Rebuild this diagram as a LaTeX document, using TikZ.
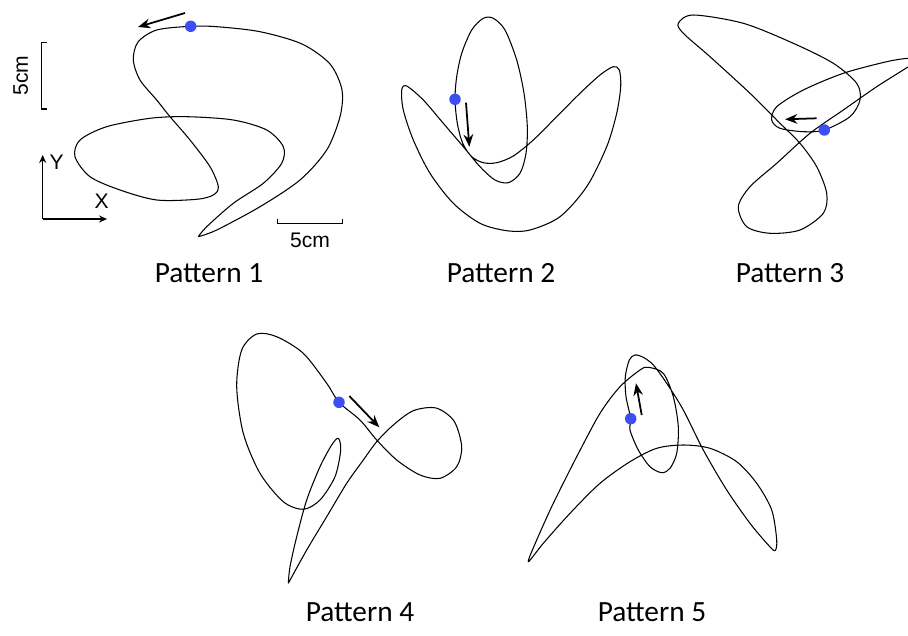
\documentclass[tikz,border=0pt]{standalone}
\usepackage{fontspec}
\setmainfont{Carlito}
\newfontfamily\arialfont{Liberation Sans}
\usetikzlibrary{arrows.meta}
\definecolor{dotblue}{HTML}{3D4EF5}

\begin{document}
\begin{tikzpicture}[x=0.02cm, y=-0.02cm,
  traj/.style={line width=0.6pt, line join=round},
  dirarrow/.style={line width=1pt, -{Stealth[length=7pt, width=5.5pt]}},
  axisarrow/.style={line width=0.7pt, -{Stealth[length=4.5pt, width=4pt]}},
  startdot/.style={circle, fill=dotblue, inner sep=0pt, minimum size=0.23cm},
  title/.style={font=\fontsize{16.7}{20}\selectfont, anchor=base},
  scalelabel/.style={font=\arialfont\fontsize{12}{14}\selectfont}]
  \useasboundingbox (0,0) rectangle (908,635);
  \clip (0,0) rectangle (908,635);

  % Pattern 1
  \draw[traj] plot[smooth] coordinates {(198.3,236.7) (216.7,230) (260,206.7) (300,180) (326.7,150) (340,116.7) (342,90) (330,64) (302,44) (260,31.7) (216.7,26.7) (190.7,26.3) (156.7,30) (138,42) (133.3,60) (140,80) (156.7,100) (170,116.7) (190,140) (210,166.7) (218.3,186.7) (213.3,195) (196.7,199.3) (156.7,200) (120,190) (90,176.7) (75,156.7) (80,140) (106.7,126.7) (150,118.3) (186.7,116.7) (233.3,120) (266.7,130) (283.3,146.7) (281.7,163.3) (263.3,183.3) (233.3,203.3) (206.7,226.7) (198.3,236.7)};
  \node[startdot] (dot1) at (190.7,26.3) {};
  \coordinate (a1s) at (185,13);
  \coordinate (a1e) at (138,27);
  \draw[dirarrow] (a1s) -- (a1e);

  % Echelles et axes
  \draw[line width=0.6pt] (46.5,42.3) -- (41.7,42.3) -- (41.7,109) -- (46.5,109);
  \node[scalelabel, rotate=90] (sv) at (20.7,75.7) {5cm};
  \draw[line width=0.6pt] (277.7,218.5) -- (277.7,223.3) -- (342.7,223.3) -- (342.7,218.5);
  \node[scalelabel] (sh) at (310,240) {5cm};
  \coordinate (ax0) at (42.7,219);
  \coordinate (axy) at (42.7,155);
  \coordinate (axx) at (107,219);
  \draw[axisarrow] (ax0) -- (axy);
  \draw[axisarrow] (ax0) -- (axx);
  \node[scalelabel] (ly) at (56.7,162.3) {Y};
  \node[scalelabel] (lx) at (101.7,201.7) {X};

  % Pattern 2
  \draw[traj] plot[smooth cycle] coordinates {(455,99.3) (457.3,123.3) (462.7,143.3) (471.7,156.7) (483.3,162.7) (496.7,162.7) (513.3,156) (533.3,140) (556.7,116.7) (580,93.3) (600,75) (613.3,66.7) (619.3,70) (620.7,86.7) (616.7,113.3) (606.7,146.7) (586.7,186.7) (560,216.7) (530,230) (506.7,230.7) (480,223.3) (453.3,203.3) (430,173.3) (413.3,140) (403.3,110) (401.7,90) (406.7,86) (423.3,100) (443.3,123.3) (463.3,146.7) (480,166.7) (495,180) (508.3,182.7) (520,173.3) (526,153.3) (527.3,126.7) (524,93.3) (516.7,60) (505,30) (493.3,18.3) (483.3,18.3) (471.7,30) (461.7,53.3) (456.7,76.7)};
  \node[startdot] (dot2) at (455,99.3) {};
  \coordinate (a2s) at (466,102.7);
  \coordinate (a2e) at (469.3,146.7);
  \draw[dirarrow] (a2s) -- (a2e);

  % Pattern 3
  \draw[traj] plot[smooth cycle] coordinates {(678.3,23.3) (693.3,15) (743.3,23.3) (793.3,43.3) (833.3,63.3) (856.7,83.3) (860,100) (850,116.7) (824.3,130) (803.3,131.7) (780,128.3) (771.7,120) (776.7,106.7) (803.3,90) (843.3,73.3) (886.7,61.7) (908.3,58.3) (916.7,60) (908.3,66.7) (876.7,86.7) (843.3,110) (810,133.3) (776.7,163.3) (750,186.7) (738.3,206.7) (746.7,226.7) (770,233.3) (800,230) (823.3,213.3) (826.7,193.3) (816.7,166.7) (800,143.3) (780,123.3) (750,93.3) (710,56.7) (683.3,33.3)};
  \node[startdot] (dot3) at (824.3,130) {};
  \coordinate (a3s) at (816.7,118.3);
  \coordinate (a3e) at (785,119.3);
  \draw[dirarrow] (a3s) -- (a3e);

  % Pattern 4
  \draw[traj] plot[smooth] coordinates {(288.3,583.3) (290,566.7) (296.7,536.7) (306.7,500) (320,466.7) (331.7,445) (338.3,438.3) (340.7,450) (335,476.7) (320,500) (303.3,509.3) (283.3,501.7) (260,473.3) (243.3,433.3) (236.7,386.7) (241.7,350) (256.7,334) (276.7,336.7) (303.3,353.3) (326.7,383.3) (339,402.3) (360,420) (376.7,440) (396.7,460) (420,475) (440,478.3) (456.7,466.7) (461.7,446.7) (454,421) (436,408) (413.3,410.7) (393.3,425) (376.7,441.7) (363.3,460) (346.7,483.3) (326.7,516.7) (306.7,550) (288.3,583.3)};
  \node[startdot] (dot4) at (339,402.3) {};
  \coordinate (a4s) at (349.3,396);
  \coordinate (a4e) at (379.3,427.3);
  \draw[dirarrow] (a4s) -- (a4e);

  % Pattern 5
  \draw[traj] plot[smooth cycle] coordinates {(630.7,418.7) (626,396.7) (625.3,376.7) (629.3,360) (635,355) (643.3,357.3) (653.3,365) (666.7,383.3) (683.3,410) (703.3,450) (726.7,490) (750,523.3) (768.3,545) (775,550.7) (776.7,540) (771.7,510) (756.7,483.3) (736.7,461.7) (710,448.3) (683.3,445) (656.7,448.3) (630,461.7) (600,483.3) (570,513.3) (543.3,543.3) (528.3,561.7) (536.7,540) (553.3,503.3) (576.7,456.7) (600,413.3) (620,386.7) (640,370) (648.3,367.3) (663.3,373.3) (673.3,396.7) (678.3,426.7) (676.7,453.3) (670,468.3) (661.7,472.7) (650,466.7) (638.3,450) (630,430)};
  \node[startdot] (dot5) at (630.7,418.7) {};
  \coordinate (a5s) at (641.7,415);
  \coordinate (a5e) at (636,383.3);
  \draw[dirarrow] (a5s) -- (a5e);

  % Titres
  \node[title] (t1) at (209,282) {Pattern 1};
  \node[title] (t2) at (501,282) {Pattern 2};
  \node[title] (t3) at (790,282) {Pattern 3};
  \node[title] (t4) at (360,621) {Pattern 4};
  \node[title] (t5) at (652,621) {Pattern 5};
\end{tikzpicture}
\end{document}
